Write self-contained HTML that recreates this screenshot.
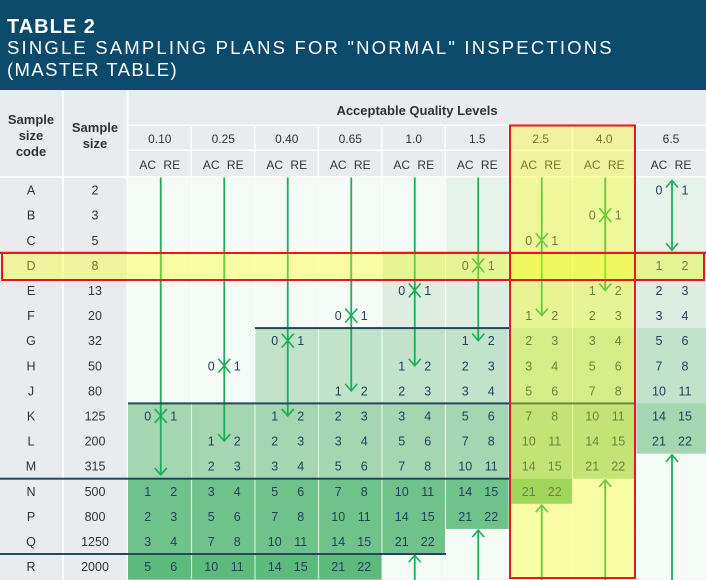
<!DOCTYPE html>
<html><head><meta charset="utf-8"><style>
html,body{margin:0;padding:0;background:#fff;width:706px;height:580px;overflow:hidden}
svg{display:block;font-family:"Liberation Sans",sans-serif}
</style></head><body>
<svg id="chart" width="706" height="580" viewBox="0 0 706 580" xmlns="http://www.w3.org/2000/svg">
<rect x="0" y="0" width="706" height="90" fill="#0b4a6b"/>
<text x="7" y="33" fill="#fff" font-size="20" font-weight="bold" letter-spacing="1">TABLE 2</text>
<text x="7" y="54" fill="#fff" font-size="18.5" letter-spacing="1.4" textLength="606">SINGLE SAMPLING PLANS FOR "NORMAL" INSPECTIONS</text>
<text x="7" y="76" fill="#fff" font-size="18.5" letter-spacing="1.4">(MASTER TABLE)</text>
<rect x="0" y="90" width="706" height="490" fill="#e9ebee"/>
<g id="layer"></g>
</svg>
<script>
const codes=["A","B","C","D","E","F","G","H","J","K","L","M","N","P","Q","R"];
const sizes=["2","3","5","8","13","20","32","50","80","125","200","315","500","800","1250","2000"];
const aqlLabels=["0.10","0.25","0.40","0.65","1.0","1.5","2.5","4.0","6.5"];
const plan010=["","","","","","","","","","0 1","","","1 2","2 3","3 4","5 6"];
const plan025=["","","","","","","","0 1","","","1 2","2 3","3 4","5 6","7 8","10 11"];
const plan040=["","","","","","","0 1","","","1 2","2 3","3 4","5 6","7 8","10 11","14 15"];
const plan065=["","","","","","0 1","","","1 2","2 3","3 4","5 6","7 8","10 11","14 15","21 22"];
const plan10=["","","","","0 1","","","1 2","2 3","3 4","5 6","7 8","10 11","14 15","21 22",""];
const plan15=["","","","0 1","","","1 2","2 3","3 4","5 6","7 8","10 11","14 15","21 22","",""];
const plan25=["","","0 1","","","1 2","2 3","3 4","5 6","7 8","10 11","14 15","21 22","","",""];
const plan40=["","0 1","","","1 2","2 3","3 4","5 6","7 8","10 11","14 15","21 22","","","",""];
const plan65=["0 1","","","1 2","2 3","3 4","5 6","7 8","10 11","14 15","21 22","","","","",""];
const plans=[plan010,plan025,plan040,plan065,plan10,plan15,plan25,plan40,plan65];
const tiers=[
[0,0,0,0,0,0,0,0,0,3,3,3,4,4,4,5],
[0,0,0,0,0,0,0,0,0,3,3,3,4,4,4,5],
[0,0,0,0,0,0,2,2,2,3,3,3,4,4,4,5],
[0,0,0,0,0,0,2,2,2,3,3,3,4,4,4,5],
[0,0,0,1,1,1,2,2,2,3,3,3,4,4,4,0],
[6,6,6,1,1,1,2,2,2,3,3,3,4,4,0,0],
[6,6,6,1,1,1,2,2,2,3,3,3,4,0,0,0],
[6,6,6,1,1,1,2,2,2,3,3,3,0,0,0,0],
[6,6,6,1,1,1,2,2,2,3,3,0,0,0,0,0]];
const tierColors=["#f4faf6","#dbeee1","#c1e3cb","#a4d6b1","#6fc28a","#5cba7c","#e6f3ea"];
const downStart=[0,0,0,0,0,0,0,0,0.12];
const downEnd=[11.85,10.5,9.5,8.5,7.5,6.5,5.5,4.5,2.9];
const crossRow=[9.5,7.5,6.5,5.5,4.5,3.5,2.5,1.5,null];
const upTo=[null,null,null,null,15.05,14.05,13.05,12.05,11.05];

const top0=177.5, rowH=25.1;
const colX=[128,191.5,255,318.5,382,445.5,509,572.5,636], colW=[63.5,63.5,63.5,63.5,63.5,63.5,63.5,63.5,70];
const NS="http://www.w3.org/2000/svg";
const layer=document.getElementById('layer');
function mk(tag,attrs,parent){const e=document.createElementNS(NS,tag);for(const k in attrs)e.setAttribute(k,attrs[k]);(parent||layer).appendChild(e);return e;}
const yOf=u=>top0+u*rowH;
function txt(x,y,s,size,fill,weight){const t=mk('text',{x:x,y:y,'text-anchor':'middle','font-size':size,fill:fill,'font-weight':weight||'normal'});t.textContent=s;return t;}

let h=mk('rect',{x:0,y:91,width:62,height:85,fill:'#e9ebee'});

["Sample","size","code"].forEach((s,i)=>txt(31,124+i*16,s,13,'#333','bold'));
["Sample","size"].forEach((s,i)=>txt(95,132+i*16,s,13,'#333','bold'));
let ah=txt(417,115,"Acceptable Quality Levels",13,'#333','bold');

mk('rect',{x:128,y:124.5,width:578,height:1.5,fill:'#fff'});
mk('rect',{x:128,y:149.5,width:578,height:1.5,fill:'#fff'});
mk('rect',{x:0,y:176,width:706,height:2,fill:'#fff'});
mk('rect',{x:62,y:91,width:2,height:489,fill:'#fff'});
mk('rect',{x:126.5,y:91,width:2,height:489,fill:'#fff'});
aqlLabels.forEach((l,c)=>{
  const cx=colX[c]+colW[c]/2;
  const t=txt(cx,143,l,12,'#333');
  
  
  const a=txt(cx-12,169,"AC",12,'#333');
  
  
  const b=txt(cx+12,169,"RE",12,'#333');
  
  
  if(c>0){mk('rect',{x:colX[c]-1,y:125,width:1.5,height:52,fill:'#fff'});}
});
codes.forEach((cd,r)=>{
  const y=yOf(r);
  const t=txt(31,y+rowH/2+4.5,cd,12.5,'#333');
  
  
  const s=txt(95,y+rowH/2+4.5,sizes[r],12.5,'#333');
  
  
  plans.forEach((p,c)=>{
    const cell=mk('rect',{x:colX[c],y:y,width:colW[c],height:rowH+0.5,fill:tierColors[tiers[c][r]]});
    
    
  });
});
for(let c=1;c<9;c++){mk('rect',{x:colX[c]-0.6,y:top0,width:1.2,height:402,fill:'#fff','fill-opacity':0.7});}
plans.forEach((p,c)=>{
  const cx=colX[c]+colW[c]/2;
  p.forEach((v,r)=>{
    if(!v)return;
    const [a,b]=v.split(" ");
    const y=yOf(r)+rowH/2+4.5;
    const ta=txt(cx-12,y,a,12.5,'#24405f');
    
    
    const tb=txt(cx+14,y,b,12.5,'#24405f');
    
    
  });
});
const G='#1bad5c';
function head(x,y,dir){mk('polyline',{points:`${x-6},${y-7*dir} ${x},${y} ${x+6},${y-7*dir}`,fill:'none',stroke:G,'stroke-width':1.6});}
plans.forEach((p,c)=>{
  const cx=colX[c]+colW[c]/2+1;
  const ln=mk('line',{x1:cx,y1:yOf(downStart[c]),x2:cx,y2:yOf(downEnd[c]),stroke:G,'stroke-width':1.8});
  
  
  head(cx,yOf(downEnd[c]),1);
  if(crossRow[c]!==null){head(cx,yOf(crossRow[c]),1);head(cx,yOf(crossRow[c]),-1);}
  if(c===8){head(cx,yOf(downStart[c]),-1);}
  if(upTo[c]!==null){
    const u=mk('line',{x1:cx,y1:580,x2:cx,y2:yOf(upTo[c]),stroke:G,'stroke-width':1.8});
    
    
    head(cx,yOf(upTo[c]),-1);
  }
});
const D='#24475f';
[[0,128,3],[382,706,3],[255,510,6],[128,636,9],[0,510,12],[0,446,15]].forEach(([x1,x2,r])=>{
  mk('rect',{x:x1,y:yOf(r)-1,width:x2-x1,height:2,fill:D});
});
const hc=mk('rect',{x:510,y:125,width:125,height:453,fill:'#ffff00','fill-opacity':0.34});


const hr=mk('rect',{x:2,y:253,width:702,height:27,fill:'#ffff00','fill-opacity':0.34});


const bc=mk('rect',{x:510,y:125.5,width:125,height:452.5,fill:'none',stroke:'#e3191e','stroke-width':2});


const br=mk('rect',{x:2,y:253,width:702,height:27,fill:'none',stroke:'#e3191e','stroke-width':2});


</script>
</body></html>
